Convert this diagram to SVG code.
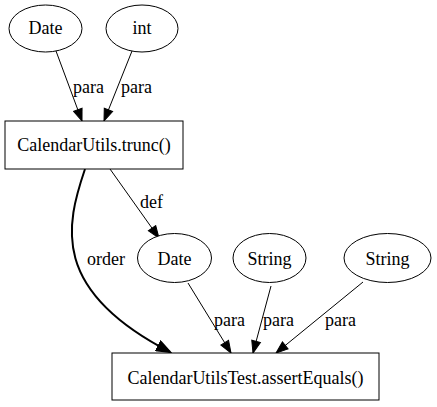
<svg xmlns="http://www.w3.org/2000/svg" width="437" height="407" viewBox="0 0 437 407" font-family="'Liberation Serif', 'Times New Roman', serif" font-size="18">
<style>
.n{text-anchor:middle}
.s{fill:#fff;stroke:#000;stroke-width:1}
.e{fill:none;stroke:#000;stroke-width:1}
.b{fill:none;stroke:#000;stroke-width:2}
</style>
<defs>
<marker id="a" markerUnits="userSpaceOnUse" markerWidth="14" markerHeight="11" refX="12" refY="5" orient="auto" viewBox="-1 -0.5 14 11">
<path d="M0,0.5 L12,5 L0,9.5 Z" fill="#000" stroke="#000" stroke-width="1"/>
</marker>
<marker id="ab" markerUnits="userSpaceOnUse" markerWidth="16" markerHeight="12" refX="13" refY="5.5" orient="auto" viewBox="-1 -0.5 16 12">
<path d="M0,0.5 L13,5.5 L0,10.5 Z" fill="#000" stroke="#000" stroke-width="2"/>
</marker>
</defs>
<rect width="437" height="407" fill="#fff"/>
<g id="connectors">
<path class="e" d="M56,51 L82,121" marker-end="url(#a)"/>
<text x="73" y="93">para</text>
<path class="e" d="M132,51 L104,121" marker-end="url(#a)"/>
<text x="121" y="93">para</text>
<path class="e" d="M110,169 L159,238" marker-end="url(#a)"/>
<text x="140" y="207.5">def</text>
<path class="b" d="M85,169 C66,225 50,290 170,352" marker-end="url(#ab)"/>
<text x="87" y="265">order</text>
<path class="e" d="M188,283 L231,353" marker-end="url(#a)"/>
<text x="214" y="325.5">para</text>
<path class="e" d="M271,286 L253,353" marker-end="url(#a)"/>
<text x="263" y="325.5">para</text>
<path class="e" d="M363,282 L276,353" marker-end="url(#a)"/>
<text x="325" y="325.5">para</text>
</g>
<g id="date1"><ellipse class="s" cx="45.5" cy="28.5" rx="36.5" ry="23.5"/><text class="n" x="45.5" y="34">Date</text></g>
<g id="int"><ellipse class="s" cx="142" cy="28.5" rx="36" ry="23.5"/><text class="n" x="142" y="34">int</text></g>
<g id="trunc"><rect class="s" x="5" y="121" width="178" height="48"/><text class="n" x="94" y="150.5">CalendarUtils.trunc()</text></g>
<g id="date2"><ellipse class="s" cx="174.5" cy="258" rx="37" ry="24.5"/><text class="n" x="174.5" y="265">Date</text></g>
<g id="string1"><ellipse class="s" cx="269.5" cy="258" rx="36.5" ry="24.5"/><text class="n" x="269.5" y="265">String</text></g>
<g id="string2"><ellipse class="s" cx="387.5" cy="258" rx="43.5" ry="24.5"/><text class="n" x="387.5" y="265">String</text></g>
<g id="assert"><rect class="s" x="112" y="353" width="267" height="47"/><text class="n" x="245.5" y="383.5">CalendarUtilsTest.assertEquals()</text></g>
</svg>
